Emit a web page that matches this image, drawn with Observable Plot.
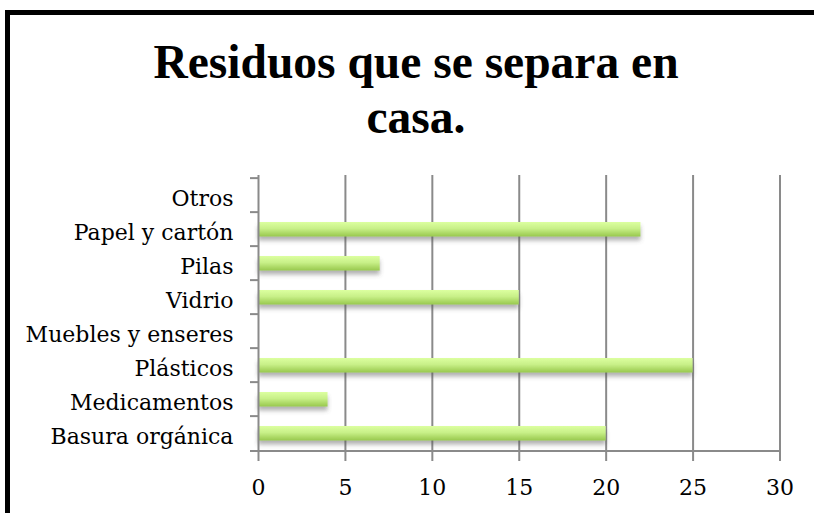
<!DOCTYPE html>
<html>
<head>
<meta charset="utf-8">
<script src="https://cdn.jsdelivr.net/npm/d3@7"></script>
<script src="https://cdn.jsdelivr.net/npm/@observablehq/plot@0.6"></script>
<style>
  html, body { margin: 0; padding: 0; background: #fff; }
  #wrap { position: relative; width: 814px; height: 513px; overflow: hidden; background: #fff; }
  #frame { position: absolute; left: 5px; top: 10px; width: 900px; height: 700px;
           border-left: 5px solid #000; border-top: 5px solid #000; pointer-events: none; }
  #title { box-sizing: border-box; width: 814px; height: 160px; padding: 35px 0 0 18px; margin: 0;
           text-align: center; font-family: "Liberation Serif", "Times New Roman", serif;
           font-weight: bold; font-size: 47.5px; line-height: 55px; color: #000; }
  #chart svg { display: block; }
</style>
</head>
<body>
<div id="wrap">
  <div id="title">Residuos que se separa en<br>casa.</div>
  <div id="chart"></div>
  <div id="frame"></div>
</div>
<script>
const categories = ["Otros", "Papel y cartón", "Pilas", "Vidrio", "Muebles y enseres", "Plásticos", "Medicamentos", "Basura orgánica"];
const values = [0, 22, 7, 15, 0, 25, 4, 20];
const xTicks = [0, 5, 10, 15, 20, 25, 30];

const data = categories.map((c, i) => ({category: c, value: values[i]}));

const W = 814, H = 353, mt = 15, mb = 60, ml = 258, mr = 34.5;
const step = (H - mt - mb) / categories.length;
const grid = "#8a8a8a";
const font = "DejaVu Serif, serif";

const plot = Plot.plot({
  width: W,
  height: H,
  marginTop: mt,
  marginBottom: mb,
  marginLeft: ml,
  marginRight: mr,
  style: {fontFamily: font, fontSize: "22px", color: "#000", background: "transparent"},
  x: {domain: [0, 30], ticks: xTicks, label: null},
  y: {domain: categories, padding: 0, label: null},
  marks: [
    Plot.gridX(xTicks.filter(t => t > 0), {stroke: grid, strokeOpacity: 1, strokeWidth: 2}),
    Plot.barX(data, {x: "value", y: "category", fill: "url(#barGrad)", insetTop: 10, insetBottom: 9.5}),
    Plot.ruleX([0], {stroke: grid, strokeWidth: 2}),
    Plot.ruleY(categories, {y: d => d, dy: -step / 2, x1: -8 / 17.4, x2: 0, stroke: grid, strokeWidth: 2}),
    Plot.ruleY([categories[categories.length - 1]], {y: d => d, dy: step / 2, x1: -8 / 17.4, x2: 30, stroke: grid, strokeWidth: 2}),
    Plot.axisX({ticks: xTicks, tickSize: 8, tickPadding: 18, stroke: grid, strokeWidth: 2, fill: "#000", fontSize: 22, tickFormat: d => String(d), label: null}),
    Plot.axisY({tickSize: 0, tickPadding: 25, dy: 3, fill: "#000", fontSize: 22, label: null})
  ]
});

const ns = "http://www.w3.org/2000/svg";
const defs = document.createElementNS(ns, "defs");
defs.innerHTML = `
  <linearGradient id="barGrad" x1="0" y1="0" x2="0" y2="1">
    <stop offset="0%" stop-color="#dcffa0"/>
    <stop offset="45%" stop-color="#c8f088"/>
    <stop offset="100%" stop-color="#98c84e"/>
  </linearGradient>
  <filter id="shadow" x="-5%" y="-30%" width="110%" height="200%">
    <feDropShadow dx="0" dy="4" stdDeviation="2.2" flood-color="#555" flood-opacity="0.45"/>
  </filter>`;
plot.insertBefore(defs, plot.firstChild);
d3.select(plot).selectAll("g[aria-label='bar'] rect").attr("filter", "url(#shadow)");

document.getElementById("chart").appendChild(plot);
</script>
</body>
</html>
